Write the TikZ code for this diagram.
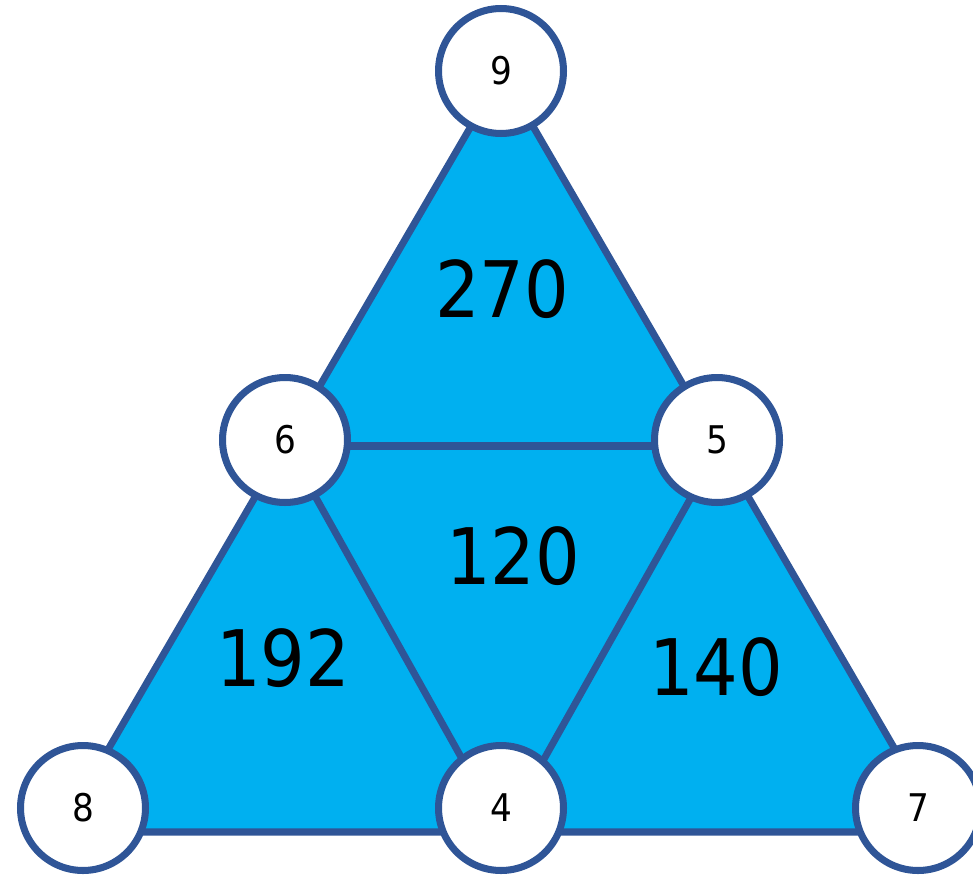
\documentclass[tikz,border=0pt]{standalone}
\usepackage{fontspec}
\setmainfont{DejaVu Sans Condensed}
\usetikzlibrary{positioning}
\definecolor{triblue}{HTML}{00B0F0}
\definecolor{edgeblue}{HTML}{2F5597}
\begin{document}
\begin{tikzpicture}[
      x=0.02cm, y=-0.02cm,
      edge/.style={draw=edgeblue, line width=4pt, line join=round},
      circ/.style={
        circle, draw=edgeblue, fill=white, line width=4pt,
        minimum size=2.5cm, inner sep=0pt, font=\fontsize{21.7}{26}\selectfont
      },
      bignum/.style={font=\fontsize{44.4}{53}\selectfont, inner sep=0pt}
    ]
    \useasboundingbox (0,0) rectangle (973,875);

    % corners of the big triangle and midpoints
    \coordinate (apex) at (502,73);
    \coordinate (bl)   at (60,832);
    \coordinate (br)   at (943,832);
    \coordinate (ml)   at (287,446);
    \coordinate (mr)   at (720,446);
    \coordinate (bm)   at (503,832);

    \fill[triblue] (apex) -- (bl) -- (br) -- cycle;
    \draw[edge] (apex) -- (bl) -- (br) -- cycle;
    \foreach \a/\b in {ml/mr, ml/bm, mr/bm}
      \draw[edge] (\a) -- (\b);

    \node[bignum] (t270) at (502,289) {270};
    \node[bignum] (t120) at (513,556) {120};
    \node[bignum] (t192) at (283,658) {192};
    \node[bignum] (t140) at (716,667) {140};

    \node[circ] (n9) at (501,71)  {9};
    \node[circ] (n6) at (285,440) {6};
    \node[circ] (n5) at (717,440) {5};
    \node[circ] (n8) at (83,808)  {8};
    \node[circ] (n4) at (501,808) {4};
    \node[circ] (n7) at (918,808) {7};
  \end{tikzpicture}
\end{document}
